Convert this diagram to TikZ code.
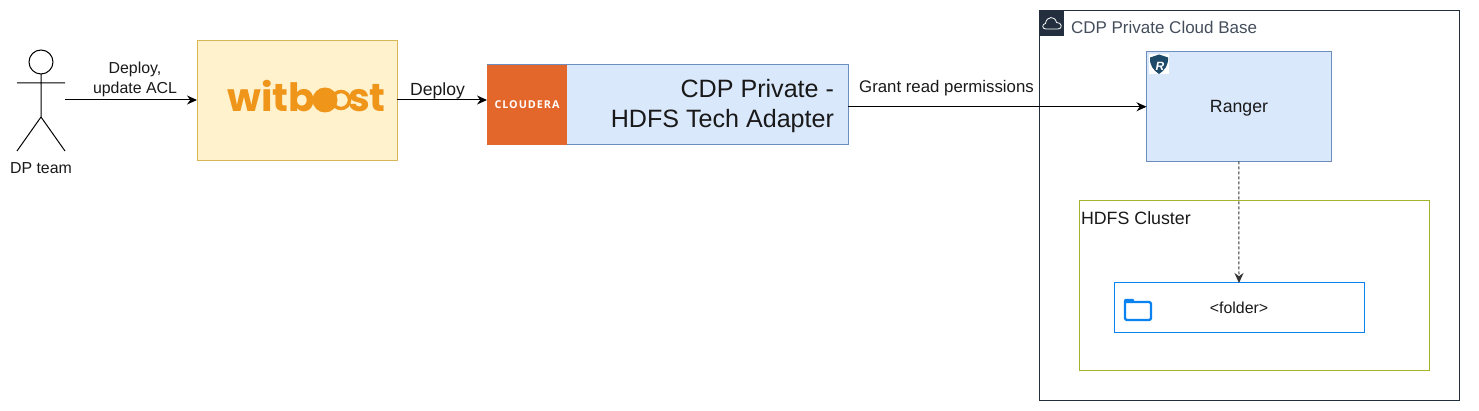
\documentclass[tikz,border=0pt]{standalone}
\usepackage{fontspec}
\setmainfont{Liberation Sans}
\newfontfamily\logofont{Poppins}
\newfontfamily\clfont[LetterSpace=9]{Open Sans}
\usetikzlibrary{arrows.meta}
\definecolor{wbfill}{HTML}{FFF2CC}
\definecolor{wbline}{HTML}{D6B656}
\definecolor{wborange}{HTML}{EE951A}
\definecolor{adfill}{HTML}{DAE8FC}
\definecolor{adline}{HTML}{6C8EBF}
\definecolor{clorange}{HTML}{E3662A}
\definecolor{cloudline}{HTML}{232F3E}
\definecolor{hdfsline}{HTML}{A3B32D}
\definecolor{folderblue}{HTML}{0A82F0}
\definecolor{shield}{HTML}{1D4A68}
\newcommand{\sz}[1]{\fontsize{#1}{#1}\selectfont}
\tikzset{
  x=1pt,y=-1pt,
  every node/.style={font=\sz{15.9},text=black!90,inner sep=0pt,outer sep=0pt},
  flow/.style={draw=black,line width=1pt,-{Stealth[length=10pt,width=9pt]}},
  box/.style={draw=adline,fill=adfill,line width=1pt,anchor=north west},
  group/.style={draw,fill=none,line width=1pt,anchor=north west}
}
\begin{document}
\begin{tikzpicture}
\useasboundingbox (0,0) rectangle (1479,411);
% groups
\node[group,draw=cloudline,minimum width=420,minimum height=389] (base) at (1039,11) {};
\node[group,draw=hdfsline,minimum width=350,minimum height=169] (cluster) at (1079,201) {};
\node[group,draw=folderblue,minimum width=250,minimum height=49] (folder) at (1114,283) {};
% boxes
\node[group,draw=wbline,fill=wbfill,minimum width=200,minimum height=120] (witboost) at (197,41) {};
\node[box,minimum width=361,minimum height=80] (adapter) at (487,65) {};
\node[box,minimum width=184.5,minimum height=109.5] (ranger) at (1146.5,52) {};
\node[anchor=north west,fill=clorange,minimum width=80,minimum height=80] (cloudera) at (487,65) {};
% actor
\coordinate (actor) at (65,100);
\draw[line width=1pt] (41,62) circle (12);
\draw[line width=1pt] (41,74)--(41,117) (17,83)--(65,83) (17,151)--(41,117)--(65,151);
\node (team) at (41,168) {DP team};
% logos
\node[anchor=base west,text=wborange,font=\logofont\bfseries\sz{39}] (wblogo) at (227.5,112) {witb};
\node[anchor=base west,text=wborange,font=\logofont\bfseries\sz{39}] (wblogoend) at (348,112) {st};
\draw[wborange,line width=3.5pt] (341,100) circle (8.5);
\fill[wborange] (325,100) circle (12.5);
\node[text=white,font=\clfont\bfseries\sz{10.8}] (cltext) at (527,104.5) {CLOUDERA};
\fill[cloudline] (1039,11) rectangle (1064,36);
\draw[white,line width=.8pt,line join=round] (1046,29) .. controls (1041.5,29) and (1042,24) .. (1045.5,23.5)
  .. controls (1046.5,16) and (1055,15.5) .. (1056.5,22.5) .. controls (1062,22) and (1063,29) .. (1058,29) -- cycle;
\fill[white] (1149,54) rectangle (1169,74);
\fill[shield] (1159,54.5) -- (1168,57.5) .. controls (1168.5,65) and (1165,70) .. (1159,74)
  .. controls (1153,70) and (1149.5,65) .. (1150,57.5) -- cycle;
\node[text=white,font=\bfseries\itshape\sz{12}] (rangerR) at (1160,66) {R};
\draw[folderblue,line width=2.2pt,line join=round,rounded corners=1.5pt,fill=white] (1125,301) -- (1125,320) -- (1151,320) -- (1151,302) -- (1125,302);
\fill[folderblue,rounded corners=1pt] (1124,299) rectangle (1134,303);
% labels
\node[anchor=west,text=cloudline!85,font=\sz{17}] (basetext) at (1071,27) {CDP Private Cloud Base};
\node[anchor=west,font=\sz{17.8}] (clustertext) at (1081,218) {HDFS Cluster};
\node[font=\sz{17.7}] (rangertext) at (1239,108.5) {Ranger};
\node (foldertext) at (1239,308) {<folder>};
\node[anchor=east,font=\sz{25.1}] (adtext1) at (834,89) {CDP Private -};
\node[anchor=east,font=\sz{25.1}] (adtext2) at (834,121) {HDFS Tech Adapter};
% connectors
\draw[flow] (actor) -- (actor -| witboost.west);
\node (lab1a) at (135,69) {Deploy,};
\node (lab1b) at (135,89) {update ACL};
\draw[flow] (witboost.east |- actor) -- (actor -| adapter.west);
\node[font=\sz{17.6}] (lab2) at (437.5,90.5) {Deploy};
\draw[flow] (adapter.east |- ranger.west) -- (ranger.west);
\node[font=\sz{16.8}] (lab3) at (946.5,88) {Grant read permissions};
\draw[flow,densely dashed,draw=black!80] (ranger.south) -- (folder.north);
\end{tikzpicture}
\end{document}
